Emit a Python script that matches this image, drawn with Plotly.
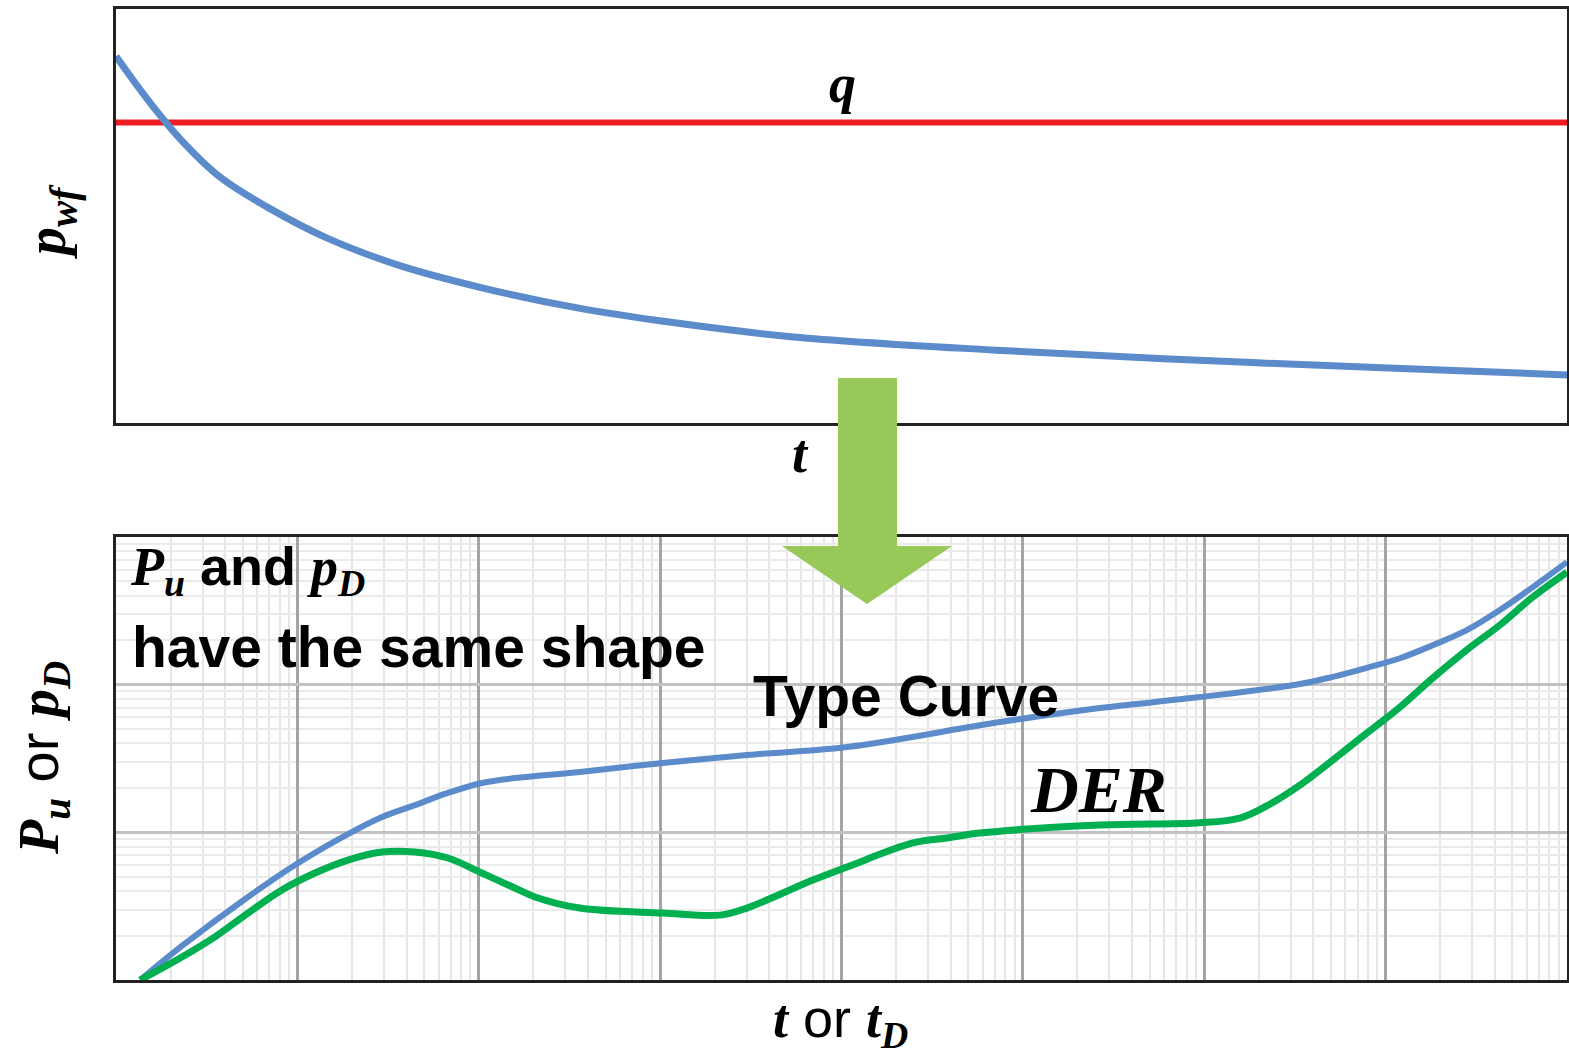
import plotly.graph_objects as go

W, H = 1569, 1058

# ---------------- data ----------------
# top panel (linear, arbitrary units)
top_t = [0, 2.21, 4.48, 7.17, 10.4, 14.4, 19.4, 25.3, 31.8, 38.5, 46.7, 60.6, 74.2, 87.7, 100]
top_pwf = [88.6, 78.0, 68.4, 59.4, 52.2, 44.9, 38.2, 32.6, 27.8, 24.2, 20.8, 17.6, 15.2, 13.3, 11.6]
rate_t = [0, 100]
rate_q = [72.6, 72.6]

# bottom panel (log-log)
type_t = [1.36, 2.31, 5.34, 10.1, 19.0, 29.3, 44.5, 67.6, 104, 158, 361, 1035, 3010, 10700,
          74700, 266000, 946000, 3.37e6, 5.12e6, 7.88e6, 1.20e7, 1.82e7, 2.80e7, 4.26e7,
          6.48e7, 1e8]
type_p = [1.00, 1.70, 3.65, 6.20, 9.73, 12.7, 15.3, 18.5, 21.6, 23.3, 25.6, 29.5, 33.4, 37.8,
          55.8, 69.5, 82.4, 101, 113, 130, 151, 185, 234, 320, 458, 676]
der_t = [1.36, 2.31, 3.51, 5.34, 8.22, 12.5, 19.0, 29.3, 44.5, 67.6, 104, 158, 204, 361, 1035,
         2140, 3010, 6950, 10700, 24800, 38100, 57900, 266000, 946000, 1.57e6, 2.21e6, 3.37e6,
         5.12e6, 7.88e6, 1.20e7, 1.82e7, 2.80e7, 4.26e7, 6.48e7, 1e8]
der_p = [1.00, 1.43, 1.96, 2.84, 4.07, 5.30, 6.49, 7.36, 7.36, 6.70, 5.30, 4.20, 3.65, 3.07, 2.84,
         2.75, 3.07, 4.75, 5.82, 8.47, 9.15, 9.89, 11.2, 11.6, 12.5, 15.1, 20.9,
         30.9, 47.0, 70.5, 111, 172, 253, 392, 578]

BLUE = "#5B8BCB"
RED = "#ED1C24"
GREEN = "#00B050"
ARROW = "#96C957"

SERIF = "Liberation Serif"
SANS = "Liberation Sans"


def px(x):
    return x / W


def py(y):
    return 1 - y / H


fig = go.Figure()

fig.add_trace(go.Scatter(x=rate_t, y=rate_q, mode="lines", line=dict(color=RED, width=6),
                         xaxis="x", yaxis="y", showlegend=False, hoverinfo="skip"))
fig.add_trace(go.Scatter(x=top_t, y=top_pwf, mode="lines",
                         line=dict(color=BLUE, width=7, shape="spline", smoothing=1.0),
                         xaxis="x", yaxis="y", showlegend=False))

fig.add_trace(go.Scatter(x=type_t, y=type_p, mode="lines",
                         line=dict(color=BLUE, width=6, shape="spline", smoothing=1.0),
                         xaxis="x2", yaxis="y2", showlegend=False))
fig.add_trace(go.Scatter(x=der_t, y=der_p, mode="lines",
                         line=dict(color=GREEN, width=7, shape="spline", smoothing=1.0),
                         xaxis="x2", yaxis="y2", showlegend=False))

frame = dict(showline=True, mirror=True, linecolor="#222222", linewidth=3,
             ticks="", showticklabels=False, zeroline=False)

fig.update_layout(
    width=W, height=H,
    margin=dict(l=0, r=0, t=0, b=0),
    paper_bgcolor="white", plot_bgcolor="white",
    xaxis=dict(domain=[px(116), px(1567)], range=[0, 100], showgrid=False, **frame),
    yaxis=dict(domain=[py(423), py(9)], range=[0, 100], showgrid=False, **frame),
    xaxis2=dict(domain=[px(116), px(1567)], type="log", range=[0, 8], anchor="y2",
                showgrid=True, gridcolor="#A4A4A4", gridwidth=3, dtick=1,
                minor=dict(showgrid=True, gridcolor="#E6E6E6", gridwidth=2, dtick="D1"),
                **frame),
    yaxis2=dict(domain=[py(980), py(537)], type="log", range=[0, 3], anchor="x2",
                showgrid=True, gridcolor="#C2C2C2", gridwidth=3, dtick=1,
                minor=dict(showgrid=True, gridcolor="#EBEBEB", gridwidth=2, dtick="D1"),
                **frame),
)

# green arrow
pts = [(838, 378), (897, 378), (897, 546), (952, 546), (867, 604), (782, 546), (838, 546)]
path = "M " + " L ".join(f"{px(a):.5f},{py(b):.5f}" for a, b in pts) + " Z"
fig.add_shape(type="path", path=path, xref="paper", yref="paper",
              fillcolor=ARROW, line=dict(width=0), layer="above")


def add(text, x, y, size, family, angle=0, xanchor="center", color="black"):
    fig.add_annotation(text=text, x=px(x), y=py(y), xref="paper", yref="paper",
                       showarrow=False, textangle=angle, xanchor=xanchor, yanchor="middle",
                       font=dict(size=size, family=family, color=color))


def serif(s):
    return f"<span style='font-family:{SERIF}'>{s}</span>"


add("<b><i>q</i></b>", 842, 84, 54, SERIF)
add("<b><i>p<sub>wf</sub></i></b>", 50, 222, 56, SERIF, angle=-90)
add("<b><i>t</i></b>", 800, 454, 54, SERIF)

add(serif("<b><i>P<sub>u</sub></i></b>") + "<b> and </b>" + serif("<b><i>p<sub>D</sub></i></b>"),
    128, 570, 54, SANS, xanchor="left")
add("<b>have the same shape</b>", 130, 647, 57, SANS, xanchor="left")
add("<b>Type Curve</b>", 906, 696, 57, SANS)
add("<b><i>DER</i></b>", 1098, 789, 66, SERIF)

add(serif("<b><i>P<sub>u</sub></i></b>") + " or " + serif("<b><i>p<sub>D</sub></i></b>"),
    42, 758, 56, SANS, angle=-90)
add(serif("<b><i>t</i></b>") + " or " + serif("<b><i>t<sub>D</sub></i></b>"),
    840, 1022, 54, SANS)

fig.write_html("out.html", config={"displayModeBar": False},
               post_script="document.body.style.margin='0';")
